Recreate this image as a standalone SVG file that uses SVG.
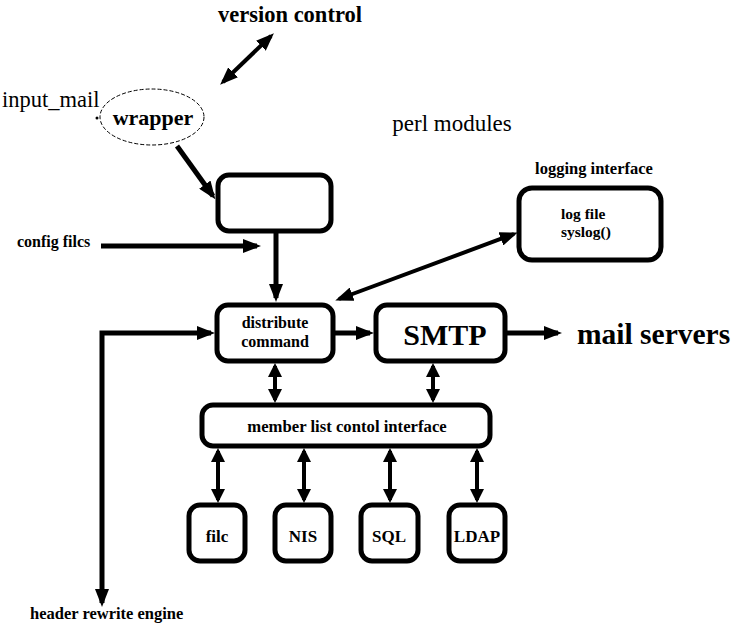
<svg xmlns="http://www.w3.org/2000/svg" width="733" height="626" viewBox="0 0 733 626">
<style>
.box{fill:#fff;stroke:#000;stroke-width:5}
.ln{fill:none;stroke:#000;stroke-width:5}
.ln4{fill:none;stroke:#000;stroke-width:4}
.t{font-family:"Liberation Serif","Times New Roman",serif;font-weight:bold;fill:#000}
.r{font-family:"Liberation Serif","Times New Roman",serif;fill:#000}
</style>
<defs>
<marker id="ah" markerUnits="userSpaceOnUse" markerWidth="18" markerHeight="14" refX="14" refY="7" orient="auto-start-reverse" viewBox="0 0 18 14">
<path d="M0,0 L18,7 L0,14 z" fill="#000"/>
</marker>
<marker id="ahs" markerUnits="userSpaceOnUse" markerWidth="14" markerHeight="14" refX="11" refY="7" orient="auto-start-reverse" viewBox="0 0 14 14">
<path d="M0,0 L14,7 L0,14 z" fill="#000"/>
</marker>
</defs>
<rect width="733" height="626" fill="#fff"/>

<g id="connectors">
<line class="ln4" x1="223" y1="82" x2="271" y2="36" marker-start="url(#ah)" marker-end="url(#ah)"/>
<line class="ln" x1="177" y1="146" x2="213" y2="196" marker-end="url(#ah)"/>
<line class="ln" x1="101" y1="246" x2="257" y2="246" marker-end="url(#ah)"/>
<line class="ln" x1="276" y1="233" x2="276" y2="298" marker-end="url(#ah)"/>
<line class="ln4" x1="514" y1="234" x2="339" y2="299" marker-start="url(#ah)" marker-end="url(#ah)"/>
<polyline class="ln" points="102,603 102,333 211,333" marker-start="url(#ah)" marker-end="url(#ah)"/>
<line class="ln" x1="335" y1="333" x2="370" y2="333" marker-end="url(#ah)"/>
<line class="ln" x1="507" y1="333" x2="558" y2="333" marker-end="url(#ah)"/>
<line class="ln4" x1="275" y1="366" x2="275" y2="400" marker-start="url(#ahs)" marker-end="url(#ahs)"/>
<line class="ln4" x1="433" y1="366" x2="433" y2="400" marker-start="url(#ahs)" marker-end="url(#ahs)"/>
<line class="ln4" x1="218" y1="451" x2="218" y2="500" marker-start="url(#ahs)" marker-end="url(#ahs)"/>
<line class="ln4" x1="304" y1="451" x2="304" y2="500" marker-start="url(#ahs)" marker-end="url(#ahs)"/>
<line class="ln4" x1="390" y1="451" x2="390" y2="500" marker-start="url(#ahs)" marker-end="url(#ahs)"/>
<line class="ln4" x1="477" y1="451" x2="477" y2="500" marker-start="url(#ahs)" marker-end="url(#ahs)"/>
</g>

<g id="version-control"><text class="t" x="290" y="22" font-size="22.5" text-anchor="middle">version control</text></g>
<g id="input-mail"><text class="r" x="2" y="107" font-size="22.5">input_mail</text><circle cx="97" cy="118" r="1.5" fill="#000"/></g>
<g id="wrapper">
<ellipse cx="152" cy="117" rx="52" ry="28" fill="#fff" stroke="#000" stroke-width="1" stroke-dasharray="4,2"/>
<text class="t" x="153" y="125" font-size="22" text-anchor="middle">wrapper</text>
</g>
<g id="perl-modules"><text class="r" x="452" y="131" font-size="23" text-anchor="middle">perl modules</text></g>
<g id="config-files"><text class="t" x="17" y="247" font-size="16">config filcs</text></g>
<g id="core-box"><rect class="box" x="218" y="175" width="113" height="56" rx="11"/></g>
<g id="logging">
<text class="t" x="594" y="174" font-size="16.5" text-anchor="middle">logging interface</text>
<rect class="box" x="519" y="188" width="142" height="72" rx="13"/>
<text class="t" x="561" y="219" font-size="15.5">log file</text>
<text class="t" x="561" y="237" font-size="15.5">syslog()</text>
</g>
<g id="distribute">
<rect class="box" x="217" y="305" width="116" height="56" rx="11"/>
<text class="t" x="275" y="328" font-size="16" text-anchor="middle">distribute</text>
<text class="t" x="275" y="347" font-size="16" text-anchor="middle">command</text>
</g>
<g id="smtp">
<rect class="box" x="376" y="305" width="129" height="56" rx="11"/>
<text class="t" x="445" y="345" font-size="30" text-anchor="middle">SMTP</text>
</g>
<g id="mail-servers"><text class="t" x="577" y="344" font-size="29.5">mail servers</text></g>
<g id="member-list">
<rect class="box" x="202" y="405" width="288" height="41" rx="11"/>
<text class="t" x="347" y="432" font-size="16.7" text-anchor="middle">member list contol interface</text>
</g>
<g id="file"><rect class="box" x="189" y="505" width="56" height="56" rx="11"/><text class="t" x="217" y="542" font-size="17" text-anchor="middle">filc</text></g>
<g id="nis"><rect class="box" x="275" y="505" width="56" height="56" rx="11"/><text class="t" x="303" y="542" font-size="17" text-anchor="middle">NIS</text></g>
<g id="sql"><rect class="box" x="361" y="505" width="57" height="56" rx="11"/><text class="t" x="389" y="542" font-size="17" text-anchor="middle">SQL</text></g>
<g id="ldap"><rect class="box" x="449" y="505" width="56" height="56" rx="11"/><text class="t" x="477" y="542" font-size="17" text-anchor="middle">LDAP</text></g>
<g id="header-rewrite"><text class="t" x="30" y="619" font-size="16.5">header rewrite engine</text></g>
</svg>
